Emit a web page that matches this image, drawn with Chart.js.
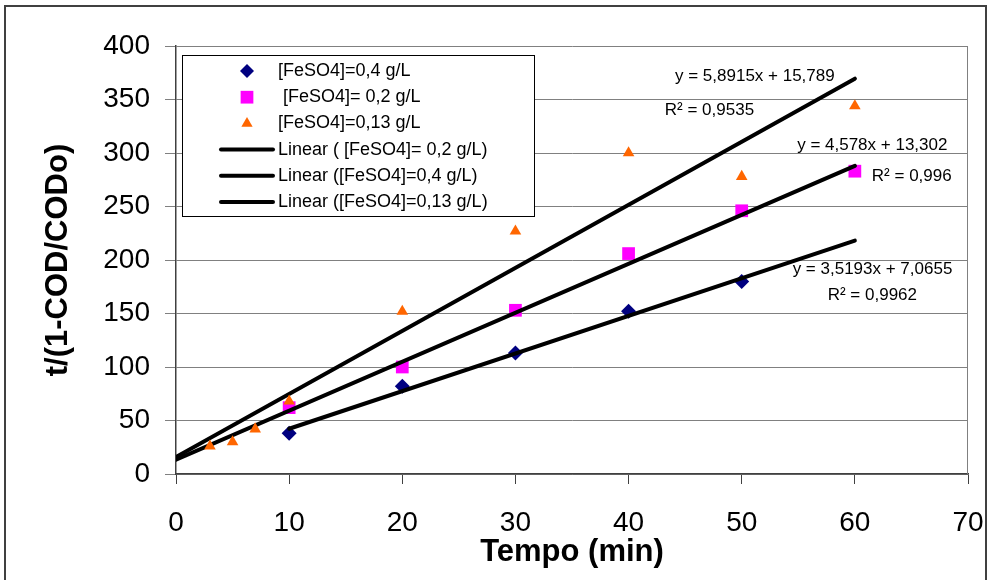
<!DOCTYPE html>
<html>
<head>
<meta charset="utf-8">
<script src="https://cdn.jsdelivr.net/npm/chart.js@4.4.0/dist/chart.umd.min.js"></script>
<style>
  html, body { margin: 0; padding: 0; background: #fff; }
  #wrap { width: 989px; height: 580px; position: relative; }
</style>
</head>
<body>
<div id="wrap"><canvas id="chart" width="989" height="580"></canvas></div>
<script>
// Time (min) for each series
const timeHigh = [10, 20, 30, 40, 50];
const timeMid = [10, 20, 30, 40, 50, 60];
const timeLow = [3, 5, 7, 10, 20, 30, 40, 50, 60];

// t/(1-COD/CODo) values
const fe04 = [38, 82, 113, 152, 180];
const fe02 = [62, 100, 153, 206, 246, 283];
const fe013 = [26, 30, 42, 68, 152, 227, 300, 278, 344];

// Trendline end points (x, y) as drawn
const trendX02 = [0, 60];
const trend02 = [13.3, 288];
const trendX04 = [10, 60];
const trend04 = [42.3, 218.2];
const trendX013 = [0, 60];
const trend013 = [15.8, 369.5];

const xTicks = [0, 10, 20, 30, 40, 50, 60, 70];
const yTicks = [0, 50, 100, 150, 200, 250, 300, 350, 400];

// Equation labels
const eqTexts = [
  'y = 5,8915x + 15,789', 'R\u00b2 = 0,9535',
  'y = 4,578x + 13,302', 'R\u00b2 = 0,996',
  'y = 3,5193x + 7,0655', 'R\u00b2 = 0,9962'
];
// where each label sits (left edge, vertical middle) in data units
const eqAt = [
  [44.1, 371.8], [43.2, 339.7],
  [54.9, 307.3], [61.5, 278.2],
  [54.5, 190.9], [57.6, 166.9]
];

const pts = (xs, ys) => xs.map((x, i) => ({ x: x, y: ys[i] }));

Chart.defaults.font.family = "Arial, 'Liberation Sans', sans-serif";
Chart.defaults.color = '#000';

// legend drawn inside the plot, in this order
const legendOrder = [0, 1, 2, 3, 4, 5];

const boxLegend = {
  id: 'boxLegend',
  afterDraw(chart) {
    const ctx = chart.ctx;
    const sets = chart.data.datasets;
    ctx.save();
    ctx.fillStyle = '#fff';
    ctx.fillRect(182.5, 55.5, 352, 161);
    ctx.strokeStyle = '#000';
    ctx.lineWidth = 1;
    ctx.strokeRect(182.5, 55.5, 352, 161);
    ctx.font = "18px Arial, 'Liberation Sans', sans-serif";
    ctx.textBaseline = 'middle';
    ctx.textAlign = 'left';
    legendOrder.forEach((idx, row) => {
      const ds = sets[idx];
      const y = 71 + row * 26.2;
      if (ds.showLine) {
        ctx.strokeStyle = '#000';
        ctx.lineWidth = 4;
        ctx.lineCap = 'round';
        ctx.beginPath();
        ctx.moveTo(221, y);
        ctx.lineTo(273, y);
        ctx.stroke();
      } else {
        ctx.fillStyle = ds.backgroundColor;
        ctx.strokeStyle = ds.borderColor;
        Chart.helpers.drawPoint(ctx, {
          pointStyle: ds.pointStyle,
          radius: ds.legendRadius,
          rotation: 0,
          borderWidth: 0
        }, 247, y);
      }
      ctx.fillStyle = '#000';
      ctx.fillText(ds.label, 278, y);
    });
    ctx.restore();
  }
};

const frame = {
  id: 'frame',
  beforeDatasetsDraw(chart) {
    const a = chart.chartArea;
    const ctx = chart.ctx;
    ctx.save();
    ctx.strokeStyle = '#808080';
    ctx.lineWidth = 1;
    ctx.beginPath();
    ctx.moveTo(a.right - 0.5, a.top);
    ctx.lineTo(a.right - 0.5, a.bottom);
    ctx.stroke();
    ctx.restore();
  },
  afterDraw(chart) {
    const ctx = chart.ctx;
    const xs = chart.scales.x, ys = chart.scales.y;
    ctx.save();
    ctx.font = "17px Arial, 'Liberation Sans', sans-serif";
    ctx.fillStyle = '#000';
    ctx.textAlign = 'left';
    ctx.textBaseline = 'middle';
    eqTexts.forEach((t, i) => {
      ctx.fillText(t, xs.getPixelForValue(eqAt[i][0]), ys.getPixelForValue(eqAt[i][1]));
    });
    // outer border
    ctx.strokeStyle = '#404040';
    ctx.lineWidth = 2;
    ctx.strokeRect(5, 6, 981, 620);
    ctx.restore();
  }
};

new Chart(document.getElementById('chart'), {
  type: 'scatter',
  data: {
    datasets: [
      {
        label: '[FeSO4]=0,4 g/L',
        data: pts(timeHigh, fe04),
        pointStyle: 'rectRot',
        pointRadius: 7.5,
        legendRadius: 7,
        backgroundColor: '#000080',
        borderColor: '#000080',
        borderWidth: 0,
        order: 3
      },
      {
        label: ' [FeSO4]= 0,2 g/L',
        data: pts(timeMid, fe02),
        pointStyle: 'rect',
        pointRadius: 9,
        legendRadius: 9,
        backgroundColor: '#ff00ff',
        borderColor: '#ff00ff',
        borderWidth: 0,
        order: 3
      },
      {
        label: '[FeSO4]=0,13 g/L',
        data: pts(timeLow, fe013),
        pointStyle: 'triangle',
        pointRadius: 6.7,
        legendRadius: 6.5,
        backgroundColor: '#ff6600',
        borderColor: '#ff6600',
        borderWidth: 0,
        order: 0
      },
      {
        label: 'Linear ( [FeSO4]= 0,2 g/L)',
        data: pts(trendX02, trend02),
        showLine: true,
        pointRadius: 0,
        borderColor: '#000',
        borderWidth: 4,
        borderCapStyle: 'round',
        order: 1
      },
      {
        label: 'Linear ([FeSO4]=0,4 g/L)',
        data: pts(trendX04, trend04),
        showLine: true,
        pointRadius: 0,
        borderColor: '#000',
        borderWidth: 4,
        borderCapStyle: 'round',
        order: 1
      },
      {
        label: 'Linear ([FeSO4]=0,13 g/L)',
        data: pts(trendX013, trend013),
        showLine: true,
        pointRadius: 0,
        borderColor: '#000',
        borderWidth: 4,
        borderCapStyle: 'round',
        order: 1
      }
    ]
  },
  options: {
    responsive: false,
    animation: false,
    layout: { padding: { top: 46, right: 21, left: 0, bottom: 0 } },
    plugins: {
      legend: { display: false },
      tooltip: { enabled: false }
    },
    scales: {
      x: {
        type: 'linear',
        min: 0,
        max: 70,
        afterBuildTicks(s) { s.ticks = xTicks.map(v => ({ value: v })); },
        afterFit(s) { s.height = 106; s.paddingLeft = 0; s.paddingRight = 0; },
        ticks: { font: { size: 28 }, padding: 22, color: '#000' },
        grid: { drawOnChartArea: false, tickLength: 10, color: '#404040' },
        border: { color: '#404040', width: 1.5 },
        title: {
          display: true,
          text: 'Tempo (min)',
          font: { size: 31, weight: 'bold' },
          color: '#000',
          padding: { top: 0, bottom: 9 }
        }
      },
      y: {
        type: 'linear',
        min: 0,
        max: 400,
        afterBuildTicks(s) { s.ticks = yTicks.map(v => ({ value: v })); },
        afterFit(s) { s.width = 176; s.paddingTop = 0; s.paddingBottom = 0; },
        ticks: { font: { size: 28 }, padding: 15, color: '#000' },
        grid: { color: '#808080', tickLength: 11 },
        border: { color: '#404040', width: 1.5 },
        title: {
          display: true,
          text: 't/(1-COD/CODo)',
          font: { size: 31, weight: 'bold' },
          color: '#000',
          padding: { top: 40, bottom: 0 }
        }
      }
    }
  },
  plugins: [frame, boxLegend]
});
</script>
</body>
</html>
